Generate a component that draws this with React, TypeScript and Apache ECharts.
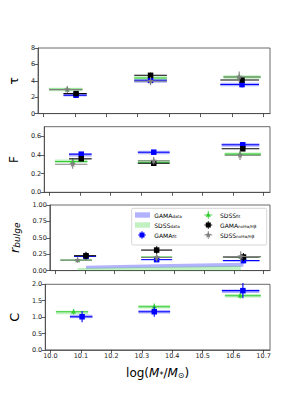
import React, { useEffect, useRef } from "react";
import * as echarts from "echarts";

const xTicks = [10.0, 10.1, 10.2, 10.3, 10.4, 10.5, 10.6, 10.7];
const xGama = [10.104, 10.341, 10.632];
const xGamaLo = [10.064, 10.289, 10.563];
const xGamaHi = [10.138, 10.393, 10.686];
const xSdss = [10.076, 10.341, 10.623];
const xSdssLo = [10.018, 10.289, 10.573];
const xSdssHi = [10.124, 10.393, 10.691];

// tau panel
const tauGamaData = [2.3, 3.98, 3.55];
const tauSdssData = [2.95, 4.35, 4.47];
const tauGamaFit = [2.24, 4.06, 3.54];
const tauGamaFitErr = [0.15, 0.35, 0.35];
const tauSdssFit = [2.95, 4.35, 4.47];
const tauSdssFitErr = [0.3, 0.4, 0.3];
const tauGamaNo = [2.44, 4.67, 4.1];
const tauGamaNoErr = [0.15, 0.3, 0.3];
const tauSdssNo = [2.92, 3.95, 4.47];
const tauSdssNoErr = [0.45, 0.5, 0.65];

// F panel
const fGamaData = [0.4, 0.425, 0.505];
const fSdssData = [0.33, 0.325, 0.405];
const fGamaFit = [0.407, 0.428, 0.507];
const fGamaFitErr = [0.02, 0.02, 0.02];
const fSdssFit = [0.329, 0.32, 0.407];
const fSdssFitErr = [0.03, 0.03, 0.03];
const fGamaNo = [0.357, 0.31, 0.464];
const fGamaNoErr = [0.02, 0.02, 0.02];
const fSdssNo = [0.3, 0.336, 0.395];
const fSdssNoErr = [0.05, 0.04, 0.05];

// r_bulge panel
const rGamaBandLo = [0.03, 0.045, 0.06];
const rGamaBandHi = [0.075, 0.095, 0.12];
const rSdssBandLo = [0.0, 0.0, 0.0];
const rSdssBandHi = [0.04, 0.055, 0.075];
const rGamaFit = [0.217, 0.167, 0.152];
const rGamaFitErr = [0.03, 0.03, 0.04];
const rSdssFit = [0.16, 0.207, 0.212];
const rSdssFitErr = [0.02, 0.02, 0.03];
const rGamaNo = [0.227, 0.313, 0.207];
const rGamaNoErr = [0.06, 0.06, 0.06];
const rSdssNo = [0.16, 0.2, 0.215];
const rSdssNoErr = [0.04, 0.06, 0.08];

// C panel
const cGamaData = [1.02, 1.163, 1.79];
const cSdssData = [1.14, 1.316, 1.65];
const cGamaFit = [1.01, 1.163, 1.806];
const cGamaFitErr = [0.17, 0.15, 0.23];
const cSdssFit = [1.163, 1.316, 1.65];
const cSdssFitErr = [0.08, 0.1, 0.08];

const BLUE = "#0000ff";
const GREEN = "#32cd32";
const GREY = "#808080";
const BLACK = "#000000";
const GAMA_BAND = "rgba(0,0,255,0.3)";
const SDSS_BAND = "rgba(50,205,50,0.3)";

function markerShape(kind: string, cx: number, cy: number, s: number, color: string, z?: number) {
  const zz = z === undefined ? {} : { z };
  if (kind === "square") {
    return { type: "rect", ...zz, shape: { x: cx - s / 2, y: cy - s / 2, width: s, height: s }, style: { fill: color } };
  }
  if (kind === "triangle") {
    const h = s * 0.9;
    return {
      type: "polygon",
      ...zz,
      shape: { points: [[cx, cy - h * 0.6], [cx - s / 2, cy + h * 0.4], [cx + s / 2, cy + h * 0.4]] },
      style: { fill: color },
    };
  }
  if (kind === "star") {
    const pts: number[][] = [];
    const R = s / 2;
    const r = R * 0.4;
    for (let k = 0; k < 10; k++) {
      const a = -Math.PI / 2 + (k * Math.PI) / 5;
      const rr = k % 2 === 0 ? R : r;
      pts.push([cx + rr * Math.cos(a), cy + rr * Math.sin(a)]);
    }
    return { type: "polygon", ...zz, shape: { points: pts }, style: { fill: color } };
  }
  return null;
}

function errSeries(
  gi: number,
  xs: number[],
  xlo: number[],
  xhi: number[],
  ys: number[],
  yerr: number[],
  color: string,
  marker: string,
  size: number,
  lw: number,
  z: number
) {
  const data = xs.map((x, i) => [x, ys[i], xlo[i], xhi[i], yerr[i]]);
  return {
    type: "custom",
    xAxisIndex: gi,
    yAxisIndex: gi,
    z,
    silent: true,
    data,
    renderItem: (params: any, api: any) => {
      const x = api.value(0);
      const y = api.value(1);
      const lo = api.value(2);
      const hi = api.value(3);
      const e = api.value(4);
      const c = api.coord([x, y]);
      const l = api.coord([lo, y]);
      const h = api.coord([hi, y]);
      const children: any[] = [
        { type: "line", shape: { x1: l[0], y1: l[1], x2: h[0], y2: h[1] }, style: { stroke: color, lineWidth: lw } },
      ];
      if (e > 0) {
        const t = api.coord([x, y + e]);
        const b = api.coord([x, y - e]);
        children.push({ type: "line", shape: { x1: t[0], y1: t[1], x2: b[0], y2: b[1] }, style: { stroke: color, lineWidth: 1.1 } });
      }
      const m = markerShape(marker, c[0], c[1], size, color);
      if (m) children.push(m);
      return { type: "group", children };
    },
  };
}

function bandSeries(gi: number, xs: number[], lo: number[], hi: number[], color: string, z: number) {
  return {
    type: "custom",
    xAxisIndex: gi,
    yAxisIndex: gi,
    z,
    silent: true,
    data: [[xs[0], lo[0]]],
    renderItem: (params: any, api: any) => {
      const pts: number[][] = [];
      for (let i = 0; i < xs.length; i++) pts.push(api.coord([xs[i], hi[i]]));
      for (let i = xs.length - 1; i >= 0; i--) pts.push(api.coord([xs[i], lo[i]]));
      return { type: "polygon", shape: { points: pts }, style: { fill: color } };
    },
  };
}

const FONT = "DejaVu Sans";
const GRID_TOPS = [48, 126.7, 205, 284.3];
const GRID_H = 65.6;

export default function App() {
  const ref = useRef<HTMLDivElement>(null);
  useEffect(() => {
    document.body.style.margin = "0";
    const chart = echarts.init(ref.current!, null, { renderer: "svg" });

    const grids = GRID_TOPS.map((t) => ({
      left: 37.3,
      width: 232.7,
      top: t,
      height: GRID_H,
      show: true,
      borderColor: "#444",
      borderWidth: 0.8,
      backgroundColor: "transparent",
    }));

    const xAxes = GRID_TOPS.map((_, i) => ({
      type: "value",
      gridIndex: i,
      min: 9.983,
      max: 10.721,
      axisLine: { show: true, onZero: false, lineStyle: { color: "#444", width: 0.8 } },
      axisTick: { show: true, length: 3.5, customValues: xTicks, lineStyle: { color: "#333", width: 0.8 } },
      axisLabel: {
        show: i === 3,
        customValues: xTicks,
        formatter: (v: number) => v.toFixed(1),
        fontSize: 6.5,
        fontFamily: FONT,
        color: "#222",
        margin: 3,
      },
      splitLine: { show: false },
      ...(i === 3
        ? {
            name: "{n|log(}{i|M}{s|*}{n|/}{i|M}{s|⊙}{n|)}",
            nameLocation: "middle",
            nameGap: 16,
            nameTextStyle: {
              rich: {
                n: { fontSize: 12, fontFamily: FONT, color: "#000" },
                i: { fontSize: 12, fontFamily: FONT, fontStyle: "italic", color: "#000" },
                s: { fontSize: 8, fontFamily: FONT, color: "#000", padding: [6, 0, 0, 0] },
              },
            },
          }
        : {}),
    }));

    const yCommon = (i: number) => ({
      type: "value",
      gridIndex: i,
      axisLine: { show: true, lineStyle: { color: "#444", width: 0.8 } },
      axisTick: { show: true, length: 3.5, lineStyle: { color: "#333", width: 0.8 } },
      splitLine: { show: false },
      nameLocation: "middle",
    });
    const lab = { fontSize: 6.5, fontFamily: FONT, color: "#222", margin: 3 };
    const yAxes = [
      {
        ...yCommon(0),
        min: 0,
        max: 8,
        interval: 2,
        axisLabel: { ...lab, formatter: (v: number) => String(v) },
        name: "τ",
        nameGap: 16,
        nameTextStyle: { fontSize: 12, fontFamily: FONT, color: "#000" },
      },
      {
        ...yCommon(1),
        min: 0,
        max: 0.7,
        axisTick: { show: true, length: 3.5, customValues: [0, 0.2, 0.4, 0.6], lineStyle: { color: "#333", width: 0.8 } },
        axisLabel: { ...lab, customValues: [0, 0.2, 0.4, 0.6], formatter: (v: number) => v.toFixed(1) },
        name: "F",
        nameGap: 19,
        nameTextStyle: { fontSize: 12, fontFamily: FONT, color: "#000" },
      },
      {
        ...yCommon(2),
        min: 0,
        max: 1,
        interval: 0.25,
        axisLabel: { ...lab, formatter: (v: number) => v.toFixed(2) },
        name: "{r|r}{s|bulge}",
        nameGap: 20,
        nameTextStyle: {
          rich: {
            r: { fontSize: 13, fontFamily: FONT, fontStyle: "italic", color: "#000" },
            s: { fontSize: 9, fontFamily: FONT, fontStyle: "italic", color: "#000", padding: [5, 0, 0, 0] },
          },
        },
      },
      {
        ...yCommon(3),
        min: 0,
        max: 2,
        interval: 0.5,
        axisLabel: { ...lab, formatter: (v: number) => v.toFixed(1) },
        name: "C",
        nameGap: 19,
        nameTextStyle: { fontSize: 13, fontFamily: FONT, color: "#000" },
      },
    ];

    const series: any[] = [
      // tau
      errSeries(0, xGama, xGamaLo, xGamaHi, tauGamaData, [0, 0, 0], GAMA_BAND, "none", 0, 3.5, 1),
      errSeries(0, xSdss, xSdssLo, xSdssHi, tauSdssData, [0, 0, 0], SDSS_BAND, "none", 0, 3.5, 1),
      errSeries(0, xSdss, xSdssLo, xSdssHi, tauSdssFit, tauSdssFitErr, GREEN, "triangle", 5, 1.1, 2),
      errSeries(0, xGama, xGamaLo, xGamaHi, tauGamaFit, tauGamaFitErr, BLUE, "square", 5.5, 1.1, 3),
      errSeries(0, xGama, xGamaLo, xGamaHi, tauGamaNo, tauGamaNoErr, BLACK, "square", 5.5, 1.1, 4),
      errSeries(0, xSdss, xSdssLo, xSdssHi, tauSdssNo, tauSdssNoErr, GREY, "star", 7, 1.1, 5),
      // F
      errSeries(1, xGama, xGamaLo, xGamaHi, fGamaData, [0, 0, 0], GAMA_BAND, "none", 0, 3.5, 1),
      errSeries(1, xSdss, xSdssLo, xSdssHi, fSdssData, [0, 0, 0], SDSS_BAND, "none", 0, 3.5, 1),
      errSeries(1, xSdss, xSdssLo, xSdssHi, fSdssFit, fSdssFitErr, GREEN, "triangle", 5, 1.1, 2),
      errSeries(1, xGama, xGamaLo, xGamaHi, fGamaFit, fGamaFitErr, BLUE, "square", 5.5, 1.1, 3),
      errSeries(1, xGama, xGamaLo, xGamaHi, fGamaNo, fGamaNoErr, BLACK, "square", 5.5, 1.1, 4),
      errSeries(1, xSdss, xSdssLo, xSdssHi, fSdssNo, fSdssNoErr, GREY, "star", 7, 1.1, 5),
      // r_bulge
      bandSeries(2, xGama, rGamaBandLo, rGamaBandHi, GAMA_BAND, 1),
      bandSeries(2, xSdss, rSdssBandLo, rSdssBandHi, SDSS_BAND, 1),
      errSeries(2, xSdss, xSdssLo, xSdssHi, rSdssFit, rSdssFitErr, GREEN, "triangle", 5, 1.1, 2),
      errSeries(2, xGama, xGamaLo, xGamaHi, rGamaFit, rGamaFitErr, BLUE, "square", 5.5, 1.1, 3),
      errSeries(2, xGama, xGamaLo, xGamaHi, rGamaNo, rGamaNoErr, BLACK, "square", 5.5, 1.1, 4),
      errSeries(2, xSdss, xSdssLo, xSdssHi, rSdssNo, rSdssNoErr, GREY, "star", 7, 1.1, 5),
      // C
      errSeries(3, xGama, xGamaLo, xGamaHi, cGamaData, [0, 0, 0], GAMA_BAND, "none", 0, 3.5, 1),
      errSeries(3, xSdss, xSdssLo, xSdssHi, cSdssData, [0, 0, 0], SDSS_BAND, "none", 0, 3.5, 1),
      errSeries(3, xSdss, xSdssLo, xSdssHi, cSdssFit, cSdssFitErr, GREEN, "triangle", 5, 1.1, 2),
      errSeries(3, xGama, xGamaLo, xGamaHi, cGamaFit, cGamaFitErr, BLUE, "square", 5.5, 1.1, 3),
    ];

    // legend (drawn as graphic)
    const legText = (x: number, y: number, main: string, sub: string) => ({
      type: "text",
      x,
      y,
      z: 30,
      style: {
        text: `{m|${main}}{s|${sub}}`,
        verticalAlign: "middle",
        rich: {
          m: { fontSize: 6, fontFamily: FONT, fill: "#000" },
          s: { fontSize: 4.2, fontFamily: FONT, fill: "#000", padding: [2.5, 0, 0, 0] },
        },
      },
    });
    const legMarker = (cx: number, cy: number, kind: string, color: string, size: number) => [
      { type: "line", z: 30, shape: { x1: cx - 4, y1: cy, x2: cx + 4, y2: cy }, style: { stroke: color, lineWidth: 0.8 } },
      { type: "line", z: 30, shape: { x1: cx, y1: cy - 4, x2: cx, y2: cy + 4 }, style: { stroke: color, lineWidth: 0.8 } },
      markerShape(kind, cx, cy, size, color, 31),
    ];
    const rows = [215, 225, 235];
    const graphic: any[] = [
      {
        type: "rect",
        z: 19,
        shape: { x: 131.7, y: 208.3, width: 135, height: 36.7, r: 1.5 },
        style: { fill: "rgba(255,255,255,0.8)", stroke: "#cccccc", lineWidth: 0.8 },
      },
      { type: "rect", z: 30, shape: { x: 135, y: rows[0] - 2.7, width: 15, height: 5.4 }, style: { fill: GAMA_BAND } },
      legText(154.3, rows[0], "GAMA", "data"),
      { type: "rect", z: 30, shape: { x: 135, y: rows[1] - 2.7, width: 15, height: 5.4 }, style: { fill: SDSS_BAND } },
      legText(154.3, rows[1], "SDSS", "data"),
      ...legMarker(142, rows[2], "square", BLUE, 5),
      legText(154.3, rows[2], "GAMA", "fit"),
      ...legMarker(208.3, rows[0], "triangle", GREEN, 5),
      legText(220, rows[0], "SDSS", "fit"),
      ...legMarker(208.3, rows[1], "square", BLACK, 5),
      legText(220, rows[1], "GAMA", "noHα/Hβ"),
      ...legMarker(208.3, rows[2], "star", GREY, 7),
      legText(220, rows[2], "SDSS", "noHα/Hβ"),
    ];

    chart.setOption({
      animation: false,
      backgroundColor: "#ffffff",
      textStyle: { fontFamily: FONT },
      grid: grids,
      xAxis: xAxes,
      yAxis: yAxes,
      series,
      graphic,
    });
    return () => chart.dispose();
  }, []);
  return <div ref={ref} style={{ width: 300, height: 400, position: "absolute", left: 0, top: 0 }} />;
}
